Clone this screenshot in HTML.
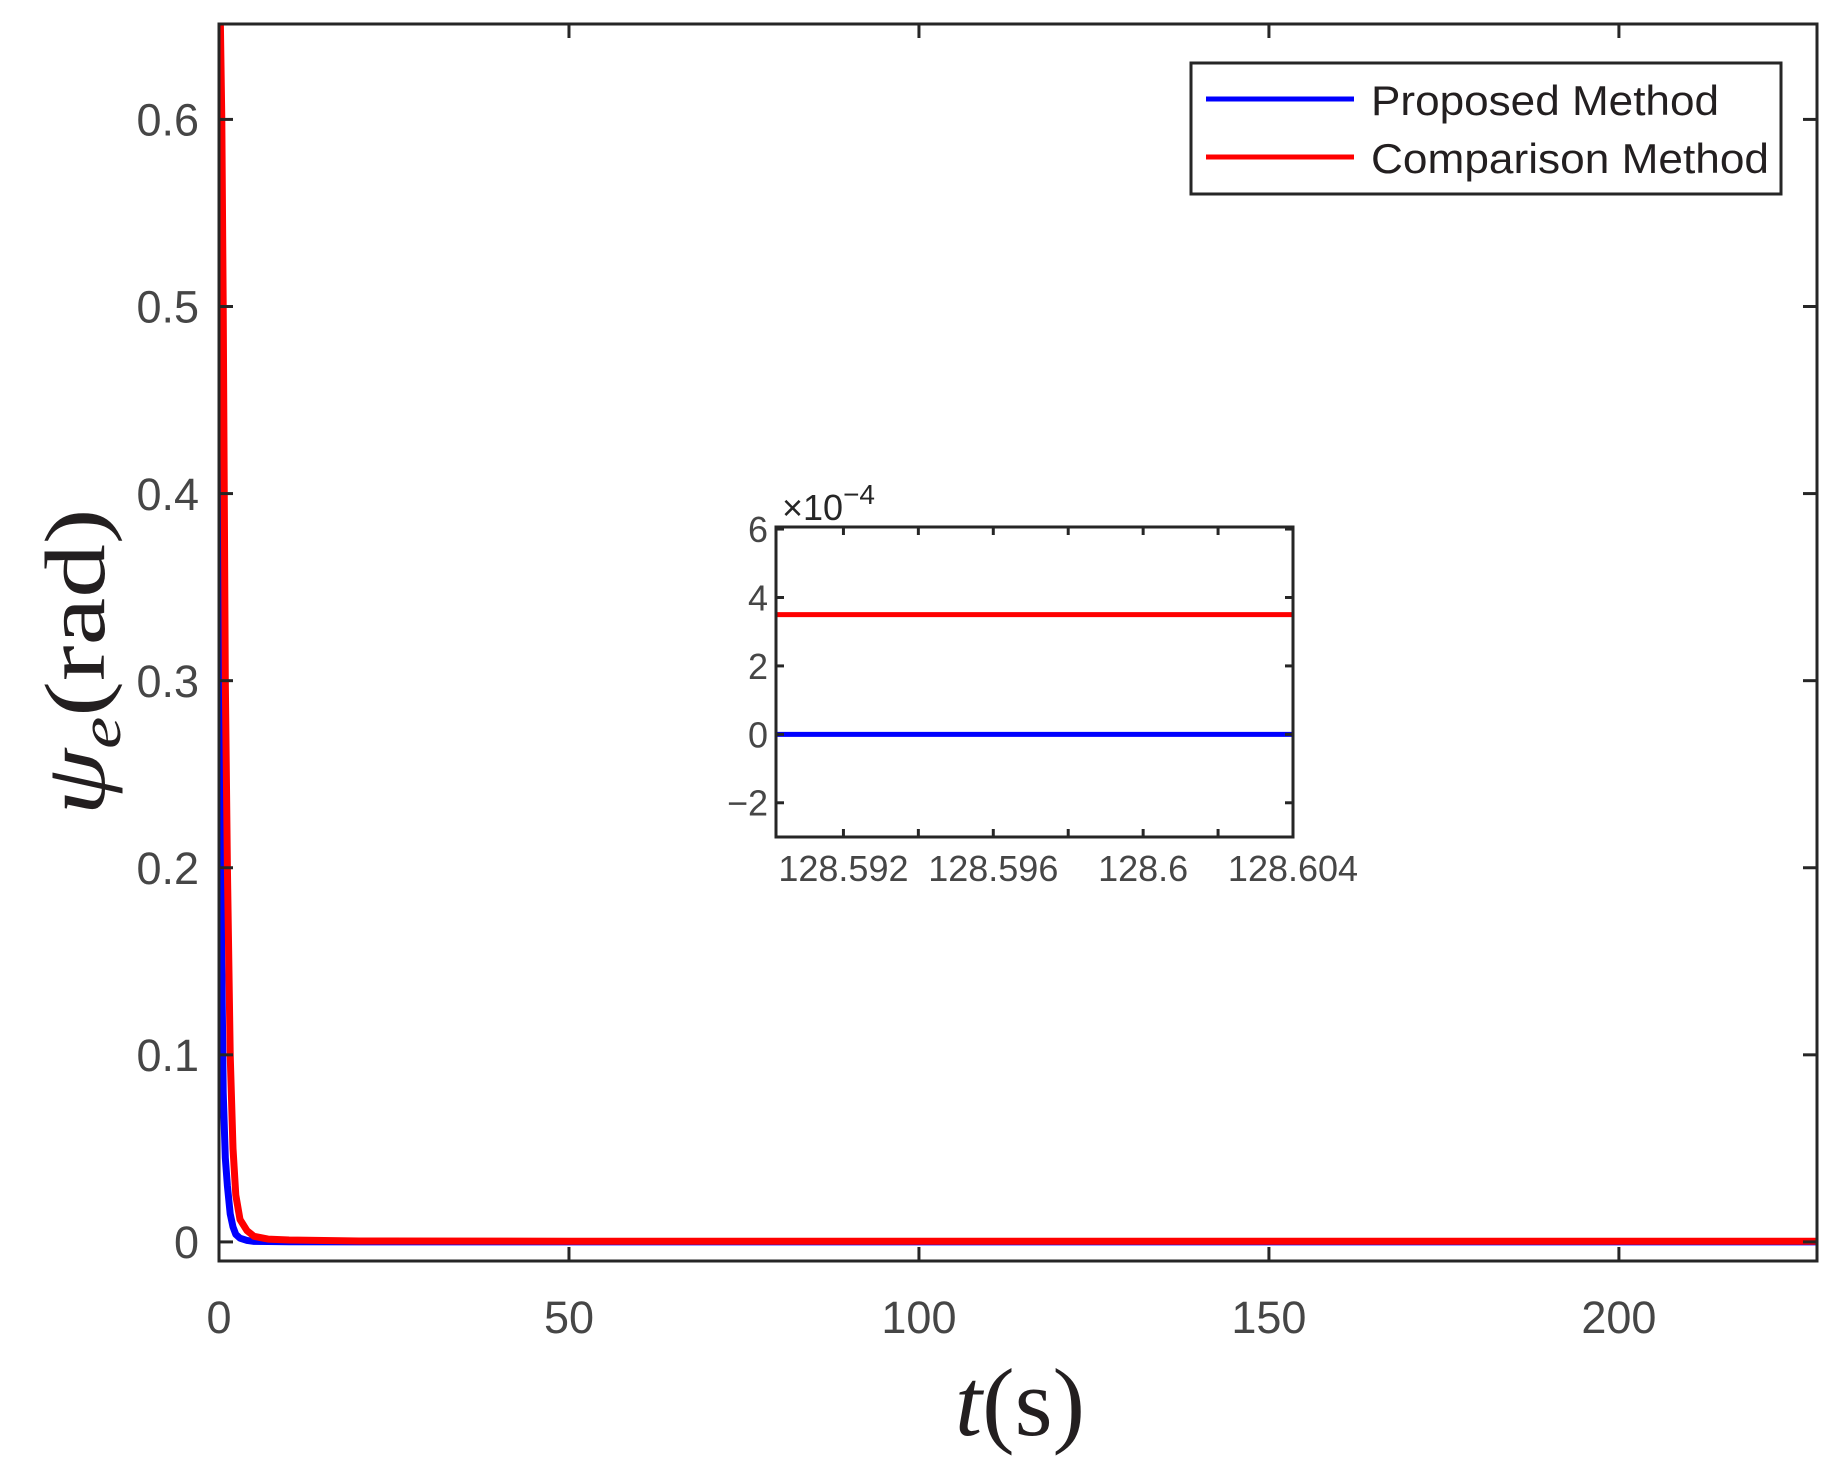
<!DOCTYPE html>
<html><head><meta charset="utf-8"><style>
html,body{margin:0;padding:0;background:#fff}
svg{display:block}
text{font-family:"Liberation Sans",sans-serif}
</style></head><body>
<svg id="chart" width="1840" height="1463" viewBox="0 0 1840 1463" xmlns="http://www.w3.org/2000/svg">
<rect width="1840" height="1463" fill="#fff"/>
<g id="main"></g>
<g id="inset"></g>
<g id="legend">
  <rect x="1191" y="63" width="590" height="131" fill="#fff" stroke="#262626" stroke-width="3"/>
  <line x1="1206" y1="99" x2="1354" y2="99" stroke="#0000ff" stroke-width="5"/>
  <text x="1371" y="115" font-size="42" fill="#231f20" textLength="348" lengthAdjust="spacingAndGlyphs">Proposed Method</text>
  <line x1="1206" y1="157" x2="1354" y2="157" stroke="#ff0000" stroke-width="5"/>
  <text x="1371" y="173" font-size="42" fill="#231f20" textLength="398" lengthAdjust="spacingAndGlyphs">Comparison Method</text>
</g>
<text transform="translate(104,662) rotate(-90)" text-anchor="middle" font-size="86" fill="#231f20" textLength="307" lengthAdjust="spacingAndGlyphs" style="font-family:'Liberation Serif',serif"><tspan font-style="italic">ψ</tspan><tspan font-style="italic" font-size="58" dy="16">e</tspan><tspan dy="-16">(rad)</tspan></text>
<text x="1020" y="1435" text-anchor="middle" font-size="96" fill="#231f20" textLength="130" lengthAdjust="spacingAndGlyphs" style="font-family:'Liberation Serif',serif"><tspan font-style="italic">t</tspan>(s)</text>
</svg>
<script>
// Main chart data
const tData = [0,0.2,0.4,0.6,0.9,1.2,1.6,2.0,2.4,3,4,5,7,10,20,50,100,150,180,228.3];
const blueData = [0.63,0.45,0.15,0.08,0.045,0.03,0.015,0.008,0.004,0.002,0.0008,0.0003,0.0002,0.0001,0,0,0,0,0,0];
const redData = [0.66,0.65,0.6,0.5,0.3,0.2,0.1,0.05,0.025,0.012,0.006,0.003,0.0015,0.001,0.0005,0.00035,0.00035,0.00035,0.00035,0.00035];
const xTicks = [0,50,100,150,200];
const xTickLabels = ["0","50","100","150","200"];
const yTicks = [0,0.1,0.2,0.3,0.4,0.5,0.6];
const yTickLabels = ["0","0.1","0.2","0.3","0.4","0.5","0.6"];
// Inset data (values x1e-4)
const tInset = [128.5902,128.604];
const blueInset = [0,0];
const redInset = [3.5,3.5];
const insetXTicks = [128.592,128.594,128.596,128.598,128.6,128.602,128.604];
const insetXLabels = ["128.592","","128.596","","128.6","","128.604"];
const insetYTicks = [-2,0,2,4,6];
const insetYLabels = ["\u22122","0","2","4","6"];

const NS="http://www.w3.org/2000/svg";
function mk(parent,tag,attrs){const e=document.createElementNS(NS,tag);for(const k in attrs)e.setAttribute(k,attrs[k]);parent.appendChild(e);return e;}

function drawAxes(g, box, xr, yr, xt, xl, yt, yl, fs, tickLen, prefix, labelGap, series, lw){
  const sx=v=>box.x0+(v-xr[0])/(xr[1]-xr[0])*(box.x1-box.x0);
  const sy=v=>box.y1-(v-yr[0])/(yr[1]-yr[0])*(box.y1-box.y0);
  const clipId=prefix+'-clip';
  const cp=mk(g,'clipPath',{id:clipId});
  mk(cp,'rect',{x:box.x0,y:box.y0,width:box.x1-box.x0,height:box.y1-box.y0});
  const sg=mk(g,'g',{'clip-path':'url(#'+clipId+')'});
  series.forEach(s=>{
    const pts=s.x.map((v,i)=>sx(v).toFixed(2)+','+sy(s.y[i]).toFixed(2)).join(' ');
    const p=mk(sg,'polyline',{points:pts,fill:'none',stroke:s.color,'stroke-width':lw,'stroke-linejoin':'round'});
    
    
  });
  xt.forEach((v,i)=>{
    const x=sx(v);
    const t1=mk(g,'line',{x1:x,y1:box.y1,x2:x,y2:box.y1-tickLen,stroke:'#262626','stroke-width':3});
    
    
    mk(g,'line',{x1:x,y1:box.y0,x2:x,y2:box.y0+tickLen,stroke:'#262626','stroke-width':3});
    if(xl[i]){
      const tx=mk(g,'text',{x:x,y:box.y1+labelGap.x,'text-anchor':'middle','font-size':fs,fill:'#464646'});
      tx.textContent=xl[i];
      
      
    }
  });
  yt.forEach((v,i)=>{
    const y=sy(v);
    const t1=mk(g,'line',{x1:box.x0,y1:y,x2:box.x0+tickLen,y2:y,stroke:'#262626','stroke-width':3});
    
    
    mk(g,'line',{x1:box.x1,y1:y,x2:box.x1-tickLen,y2:y,stroke:'#262626','stroke-width':3});
    const tx=mk(g,'text',{x:box.x0-labelGap.y,y:y+fs*0.36,'text-anchor':'end','font-size':fs,fill:'#464646'});
    tx.textContent=yl[i];
    
    
  });
  const fr=mk(g,'rect',{x:box.x0,y:box.y0,width:box.x1-box.x0,height:box.y1-box.y0,fill:'none',stroke:'#262626','stroke-width':3});
  
  
}

const gMain=document.getElementById('main');


drawAxes(gMain,{x0:219,x1:1817,y0:24,y1:1261},[0,228.3],[-0.0102,0.651],xTicks,xTickLabels,yTicks,yTickLabels,45,14,'main',{x:72,y:20},
  [{x:tData,y:blueData,color:'#0000ff',name:'proposed-method-line'},{x:tData,y:redData,color:'#ff0000',name:'comparison-method-line'}],7);

const gIn=document.getElementById('inset');


mk(gIn,'rect',{x:776,y:527,width:517,height:310,fill:'#fff'});
drawAxes(gIn,{x0:776,x1:1293,y0:527,y1:837},[128.5902,128.604],[-3,6.06],insetXTicks,insetXLabels,insetYTicks,insetYLabels,36,8,'inset',{x:44,y:8},
  [{x:tInset,y:blueInset,color:'#0000ff',name:'inset-proposed-line'},{x:tInset,y:redInset,color:'#ff0000',name:'inset-comparison-line'}],5);
const ex=mk(gIn,'text',{x:782,y:520,'font-size':36,fill:'#262626'});
ex.innerHTML='×10<tspan dy="-16" font-size="28">−4</tspan>';


</script>
</body></html>
